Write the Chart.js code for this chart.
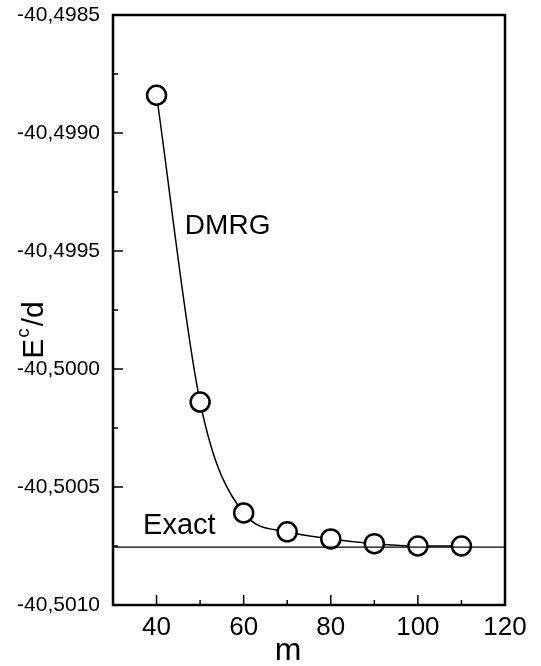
<!DOCTYPE html>
<html><head><meta charset="utf-8">
<script src="https://cdn.jsdelivr.net/npm/chart.js@4"></script>
<style>html,body{margin:0;padding:0;background:#fff}canvas{display:block}</style>
</head><body>
<canvas id="c" width="541" height="666"></canvas>
<script>
// ---- data ----
const mValues = [40, 50, 60, 70, 80, 90, 100, 110];
const energyDMRG = [-40.49884, -40.50014, -40.50061, -40.50069, -40.50072, -40.50074, -40.50075, -40.50075];
const exactEnergy = -40.500755;
const exactRangeM = [30, 120];
const xTicks = [40, 60, 80, 100, 120];
const xMinorTicks = [50, 70, 90, 110];
const yTicks = [-40.5010, -40.5005, -40.5000, -40.4995, -40.4990, -40.4985];
const yTickLabels = ['-40,5010', '-40,5005', '-40,5000', '-40,4995', '-40,4990', '-40,4985'];
const yMinorTicks = [-40.50075, -40.50025, -40.49975, -40.49925, -40.49875];
const curveLabels = ['DMRG', 'Exact'];
const curveLabelM = [46.5, 36.9];
const curveLabelE = [-40.49943, -40.50070];

const FONT = '"Liberation Sans", Arial, Helvetica, sans-serif';

const decor = {
  id: 'decor',
  afterDatasetsDraw(chart) {
    const { ctx, chartArea: a, scales: { x, y } } = chart;
    ctx.save();
    ctx.strokeStyle = '#000';
    ctx.fillStyle = '#000';
    ctx.lineWidth = 1.5;
    ctx.beginPath();
    xTicks.forEach(v => { if (v > x.min && v < x.max) { const p = x.getPixelForValue(v); ctx.moveTo(p, a.bottom); ctx.lineTo(p, a.bottom - 10); } });
    xMinorTicks.forEach(v => { const p = x.getPixelForValue(v); ctx.moveTo(p, a.bottom); ctx.lineTo(p, a.bottom - 5); });
    yTicks.forEach(v => { if (v > y.min && v < y.max) { const p = y.getPixelForValue(v); ctx.moveTo(a.left, p); ctx.lineTo(a.left + 10, p); } });
    yMinorTicks.forEach(v => { const p = y.getPixelForValue(v); ctx.moveTo(a.left, p); ctx.lineTo(a.left + 5, p); });
    ctx.stroke();
    ctx.lineWidth = 2.5;
    ctx.strokeRect(a.left, a.top, a.right - a.left, a.bottom - a.top);

    // curve labels
    ctx.textAlign = 'left';
    ctx.textBaseline = 'alphabetic';
    const sizes = [28, 29];
    curveLabels.forEach((t, i) => {
      ctx.font = sizes[i] + 'px ' + FONT;
      ctx.fillText(t, x.getPixelForValue(curveLabelM[i]), y.getPixelForValue(curveLabelE[i]));
    });

    // x title
    ctx.font = '32px ' + FONT;
    ctx.textAlign = 'center';
    ctx.fillText('m', (a.left + a.right) / 2 - 21, 660);

    // y title with superscript
    ctx.translate(43, 330);
    ctx.rotate(-Math.PI / 2);
    ctx.textAlign = 'left';
    ctx.font = '30px ' + FONT;
    const wE = ctx.measureText('E').width;
    ctx.font = '19px ' + FONT;
    const wc = ctx.measureText('c').width;
    ctx.font = '30px ' + FONT;
    const wr = ctx.measureText('/d').width;
    const total = wE + wc + 3 + wr;
    let cx = -total / 2;
    ctx.fillText('E', cx, 0); cx += wE + 1;
    ctx.font = '19px ' + FONT;
    ctx.fillText('c', cx, -14); cx += wc + 2;
    ctx.font = '30px ' + FONT;
    ctx.fillText('/d', cx, 0);
    ctx.restore();
  }
};

new Chart(document.getElementById('c'), {
  type: 'line',
  data: {
    datasets: [
      {
        label: 'DMRG',
        data: mValues.map((m, i) => ({ x: m, y: energyDMRG[i] })),
        borderColor: '#000',
        borderWidth: 1.5,
        cubicInterpolationMode: 'monotone',
        pointRadius: 9.5,
        pointBorderWidth: 2.5,
        pointBackgroundColor: '#fff',
        pointBorderColor: '#000',
        order: 1
      },
      {
        label: 'Exact',
        data: exactRangeM.map(m => ({ x: m, y: exactEnergy })),
        borderColor: '#000',
        borderWidth: 1.2,
        pointRadius: 0,
        order: 0
      }
    ]
  },
  options: {
    responsive: false,
    animation: false,
    devicePixelRatio: 1,
    layout: { padding: { top: 15, right: 36, left: 0, bottom: 0 } },
    plugins: { legend: { display: false }, tooltip: { enabled: false } },
    scales: {
      x: {
        type: 'linear',
        min: 30, max: 120,
        grid: { display: false, drawTicks: false },
        border: { display: false },
        afterBuildTicks: s => { s.ticks = xTicks.map(v => ({ value: v })); },
        afterFit: s => { s.height = 61; s.paddingLeft = 0; s.paddingRight = 0; },
        ticks: { color: '#000', font: { family: FONT, size: 26 }, padding: 7, maxRotation: 0, autoSkip: false }
      },
      y: {
        type: 'linear',
        min: -40.5010, max: -40.4985,
        grid: { display: false, drawTicks: false },
        border: { display: false },
        afterBuildTicks: s => { s.ticks = yTicks.map(v => ({ value: v })); },
        afterFit: s => { s.width = 113; s.paddingTop = 0; s.paddingBottom = 0; },
        ticks: {
          color: '#000', font: { family: FONT, size: 21 }, padding: 13, autoSkip: false,
          callback: (v) => { const i = yTicks.findIndex(t => Math.abs(t - v) < 1e-7); return i >= 0 ? yTickLabels[i] : ''; }
        }
      }
    }
  },
  plugins: [decor]
});
</script>
</body></html>
